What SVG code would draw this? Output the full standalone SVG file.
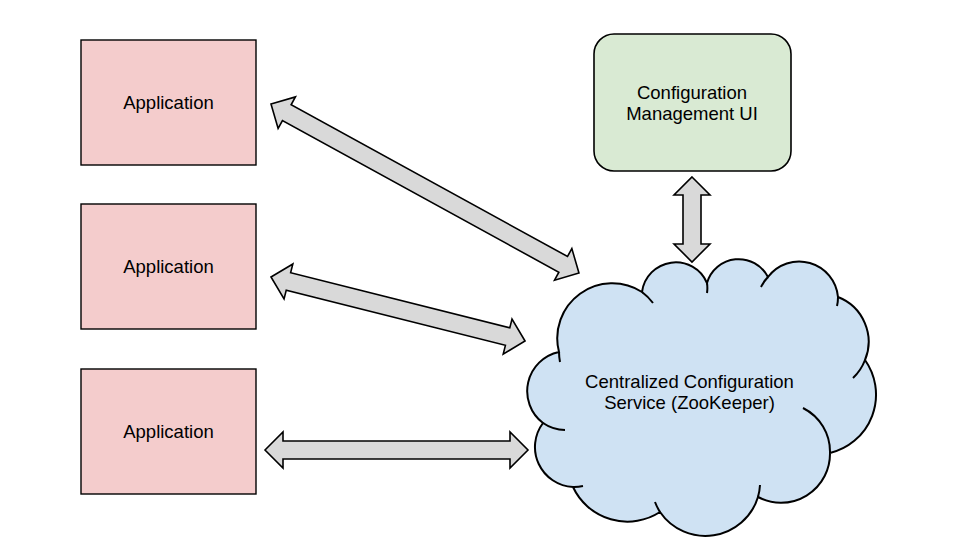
<svg xmlns="http://www.w3.org/2000/svg" width="957" height="546" viewBox="0 0 957 546">
<style>
.app{fill:#f4cccc;stroke:#000;stroke-width:1.4}
.ui{fill:#d9ead3;stroke:#000;stroke-width:1.6}
.cloud{fill:#cfe2f3;stroke:#000;stroke-width:2}
.tail{fill:none;stroke:#000;stroke-width:2}
.arrow{fill:#d9d9d9;stroke:#000;stroke-width:1.6;stroke-linejoin:miter}
text{font-family:"Liberation Sans",Arial,sans-serif;font-size:18.5px;fill:#000;text-anchor:middle}
</style>
<rect width="957" height="546" fill="#fff"/>
<g id="app1"><rect class="app" x="81" y="40" width="175" height="125"/><text x="168.5" y="109">Application</text></g>
<g id="app2"><rect class="app" x="81" y="204" width="175" height="125"/><text x="168.5" y="273">Application</text></g>
<g id="app3"><rect class="app" x="81" y="369" width="175" height="125"/><text x="168.5" y="438">Application</text></g>
<g id="ui"><rect class="ui" x="594" y="34" width="197" height="137" rx="20" ry="20"/><text x="692" y="99">Configuration</text><text x="692" y="120">Management UI</text></g>
<g id="zookeeper">
<path class="cloud" d="M559 352 A55 55 0 0 1 642 292 A34 34 0 0 1 707 283 A33 33 0 0 1 768 277 A39 39 0 0 1 838 297 A48 48 0 0 1 865 360 A60 60 0 0 1 830 453 A49 49 0 0 1 758 497 A55 55 0 0 1 660 512 A60 60 0 0 1 573 487 A40 40 0 0 1 543 423 A40 40 0 0 1 559 352 Z"/>
<path class="tail" d="M559 352 A55 55 0 0 0 560 362 M642 292 A55 55 0 0 1 653 303 M707 283 A34 34 0 0 1 707 293 M768 277 A39 39 0 0 0 761 287 M838 297 A39 39 0 0 1 837 306 M865 360 A48 48 0 0 1 853 378 M830 453 A49 49 0 0 0 803 408 M758 497 A55 55 0 0 0 760 485 M660 512 A55 55 0 0 1 655 502 M573 487 A40 40 0 0 0 583 486 M543 423 A40 40 0 0 0 565 430"/>
<text x="689.5" y="388">Centralized Configuration</text>
<text x="689.5" y="409">Service (ZooKeeper)</text>
</g>
<g id="connectors">
<polygon class="arrow" transform="translate(271 104) rotate(28.76)" points="0,0 18,-18 18,-9 333.3,-9 333.3,-18 351.3,0 333.3,18 333.3,9 18,9 18,18"/>
<polygon class="arrow" transform="translate(271 277) rotate(14.14)" points="0,0 18,-18 18,-9 244,-9 244,-18 262,0 244,18 244,9 18,9 18,18"/>
<polygon class="arrow" transform="translate(265 450)" points="0,0 18,-18 18,-9 245,-9 245,-18 263,0 245,18 245,9 18,9 18,18"/>
<polygon class="arrow" transform="translate(692 177) rotate(90)" points="0,0 18,-18 18,-9 67,-9 67,-18 85,0 67,18 67,9 18,9 18,18"/>
</g>
</svg>
